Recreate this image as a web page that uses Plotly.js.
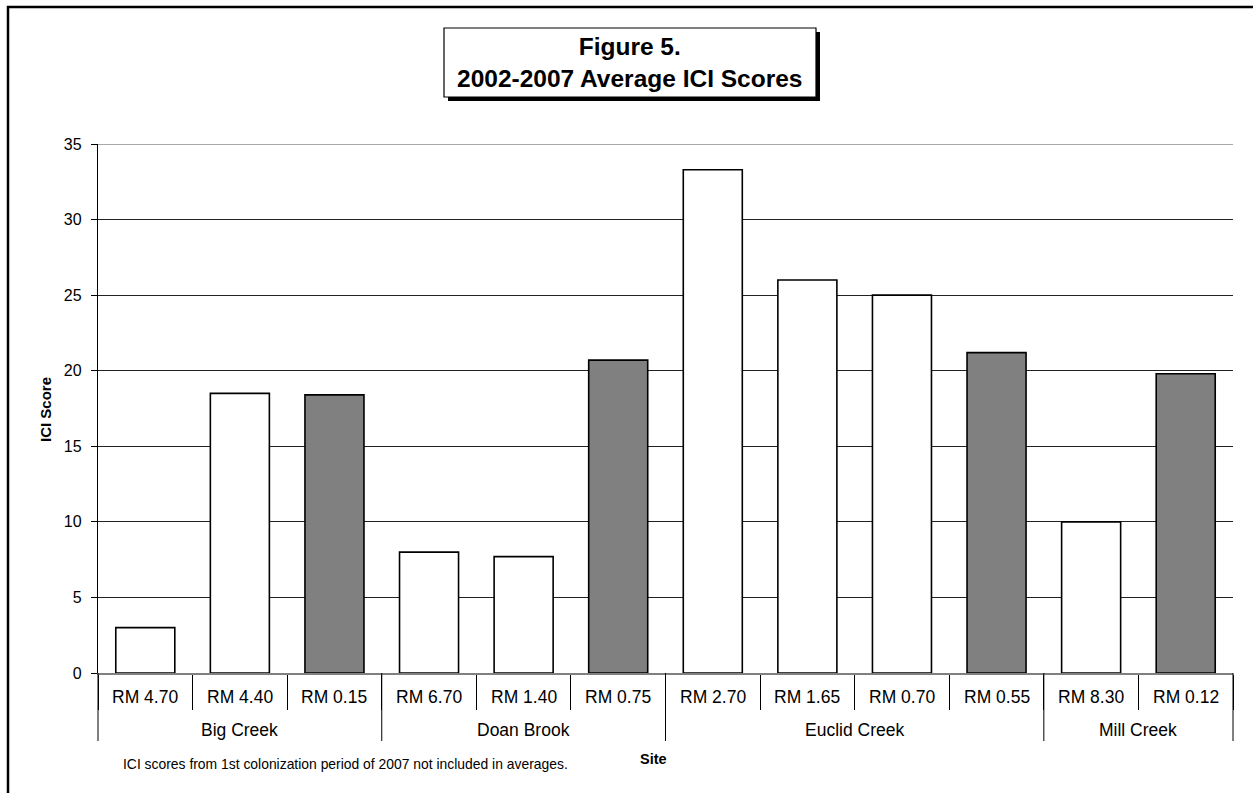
<!DOCTYPE html>
<html>
<head>
<meta charset="utf-8">
<script src="https://cdn.plot.ly/plotly-3.0.1.min.js"></script>
<style>
html,body{margin:0;padding:0;background:#fff;}
#chart{width:1253px;height:793px;}
</style>
</head>
<body>
<div id="chart"></div>
<script>
// ---- data ----
const streams = ["Big Creek", "Doan Brook", "Euclid Creek", "Mill Creek"];
const streamSiteCounts = [3, 3, 4, 2];
const sites = ["RM 4.70", "RM 4.40", "RM 0.15", "RM 6.70", "RM 1.40", "RM 0.75",
               "RM 2.70", "RM 1.65", "RM 0.70", "RM 0.55", "RM 8.30", "RM 0.12"];
const iciScores = [3.0, 18.5, 18.4, 8.0, 7.7, 20.7, 33.3, 26.0, 25.0, 21.2, 10.0, 19.8];
const yTicks = [0, 5, 10, 15, 20, 25, 30, 35];
const titleLines = ["Figure 5.", "2002-2007 Average ICI Scores"];
const yTitle = "ICI Score";
const xTitle = "Site";
const footnote = "ICI scores from 1st colonization period of 2007 not included in averages.";

// ---- derived structure ----
const groupStart = [];
const groupEnd = [];
let acc = 0;
streamSiteCounts.forEach(n => { groupStart.push(acc); acc += n; groupEnd.push(acc - 1); });
// the most downstream site (last of each stream) is shaded
const fills = sites.map((_, i) => groupEnd.includes(i) ? '#808080' : '#ffffff');
const innerGroupBoundaries = groupStart.slice(1).map(s => s - 0.5);
const groupMids = groupStart.map((s, k) => (s + groupEnd[k]) / 2);
const yMax = Math.max(...yTicks);

const FONT = 'Liberation Sans, Arial, sans-serif';

// pixel helpers for layout decorations (plot area 98..1233 x 144..673)
const L = 98, R = 1233, T = 144, B = 673;
const px = x => (x - L) / (R - L);
const py = y => (B - y) / (B - T);

const trace = {
  type: 'bar',
  x: sites,
  y: iciScores,
  marker: { color: fills, line: { color: '#000', width: 1.6 } },
  hoverinfo: 'x+y',
  showlegend: false
};

const annotations = [];
sites.forEach(s => annotations.push({
  text: s, x: s, xref: 'x', y: py(697), yref: 'paper',
  showarrow: false, font: { family: FONT, size: 17.5, color: '#000' },
  xanchor: 'center', yanchor: 'middle'
}));
streams.forEach((s, k) => annotations.push({
  text: s, x: groupMids[k], xref: 'x', y: py(730), yref: 'paper',
  showarrow: false, font: { family: FONT, size: 17.5, color: '#000' },
  xanchor: 'center', yanchor: 'middle'
}));
annotations.push({
  text: '<b>' + yTitle + '</b>', x: px(45), y: py(410), xref: 'paper', yref: 'paper',
  textangle: -90, showarrow: false, font: { family: FONT, size: 15, color: '#000' },
  xanchor: 'center', yanchor: 'middle'
});
annotations.push({
  text: '<b>' + xTitle + '</b>', x: px(653), y: py(759), xref: 'paper', yref: 'paper',
  showarrow: false, font: { family: FONT, size: 14.5, color: '#000' },
  xanchor: 'center', yanchor: 'middle'
});
annotations.push({
  text: footnote, x: px(121), y: py(764), xref: 'paper', yref: 'paper',
  showarrow: false, font: { family: FONT, size: 13.9, color: '#000' },
  xanchor: 'left', yanchor: 'middle'
});
annotations.push({
  text: '<b>' + titleLines.join('<br>') + '</b>', x: px(630), y: py(62), xref: 'paper', yref: 'paper',
  showarrow: false, font: { family: FONT, size: 24.5, color: '#000' },
  xanchor: 'center', yanchor: 'middle'
});

const shapes = [
  // outer frame
  { type: 'rect', xref: 'paper', yref: 'paper', x0: px(8), x1: px(1300), y0: py(7), y1: py(850),
    line: { color: '#000', width: 2.5 }, fillcolor: 'rgba(0,0,0,0)', layer: 'above' },
  // title box shadow
  { type: 'rect', xref: 'paper', yref: 'paper', x0: px(448), x1: px(820), y0: py(32), y1: py(101),
    line: { width: 0 }, fillcolor: '#000', layer: 'above' },
  // title box
  { type: 'rect', xref: 'paper', yref: 'paper', x0: px(444), x1: px(816), y0: py(28), y1: py(97),
    line: { color: '#000', width: 1.2 }, fillcolor: '#fff', layer: 'above' },
  // top gridline at the axis maximum
  { type: 'line', xref: 'paper', yref: 'y', x0: 0, x1: 1, y0: yMax, y1: yMax,
    line: { color: '#555', width: 1 }, layer: 'below' },
  // stream dividers at both ends of the category axis
  { type: 'line', xref: 'paper', yref: 'paper', x0: 0, x1: 0, y0: 0, y1: py(741),
    line: { color: '#000', width: 1 } },
  { type: 'line', xref: 'paper', yref: 'paper', x0: 1, x1: 1, y0: 0, y1: py(741),
    line: { color: '#000', width: 1 } }
];
innerGroupBoundaries.forEach(b => shapes.push({
  type: 'line', xref: 'x', yref: 'paper', x0: b, x1: b, y0: 0, y1: py(741),
  line: { color: '#000', width: 1 }
}));

const layout = {
  width: 1253, height: 793,
  margin: { l: L, r: 1253 - R, t: T, b: 793 - B, pad: 0 },
  paper_bgcolor: '#fff', plot_bgcolor: '#fff',
  font: { family: FONT, color: '#000' },
  bargap: 0.376,
  showlegend: false,
  xaxis: {
    type: 'category', range: [-0.5, sites.length - 0.5],
    showline: true, linecolor: '#808080', linewidth: 1.5,
    tickson: 'boundaries', ticks: 'outside', ticklen: 35, tickcolor: '#000', tickwidth: 1,
    showticklabels: false,
    showgrid: false, zeroline: false, fixedrange: true
  },
  yaxis: {
    range: [0, 35], tickmode: 'array', tickvals: yTicks,
    showline: true, linecolor: '#000', linewidth: 1.2,
    ticks: 'outside', ticklen: 6, tickcolor: '#000',
    ticklabelstandoff: 6,
    tickfont: { family: FONT, size: 16, color: '#000' },
    showgrid: true, gridcolor: '#222', gridwidth: 1,
    zeroline: false, fixedrange: true
  },
  shapes: shapes,
  annotations: annotations
};

Plotly.newPlot('chart', [trace], layout, { staticPlot: true, displayModeBar: false });
</script>
</body>
</html>
